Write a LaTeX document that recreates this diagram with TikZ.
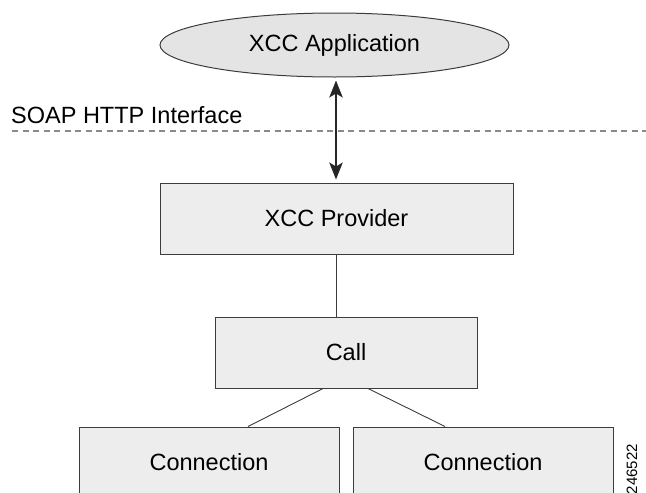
\documentclass[tikz,border=0pt]{standalone}
\usepackage{fontspec}
\setmainfont{Liberation Sans}
\usetikzlibrary{shapes.geometric,arrows.meta,calc}

\definecolor{boxfill}{HTML}{EDEDED}
\definecolor{ovalfill}{HTML}{E4E4E4}
\definecolor{boxline}{HTML}{3C3C3C}
\definecolor{dashline}{HTML}{8A8A8A}

\tikzset{
  lbl/.style={font=\fontsize{23.5}{28}\selectfont},
  block/.style={draw=boxline, fill=boxfill, line width=1pt, inner sep=0pt, lbl},
  oval/.style={ellipse, draw=boxline, fill=ovalfill, line width=1pt, inner sep=0pt, lbl},
  link/.style={draw=boxline, line width=0.9pt},
  headtip/.tip={Stealth[length=17pt,width=13.5pt,inset=4pt]},
}

\begin{document}
\begin{tikzpicture}[x=1pt, y=-1pt]
  \useasboundingbox (0,0) rectangle (646,493);
  \clip (0,0) rectangle (646,493);

  % client on top
  \node[oval, minimum width=349pt, minimum height=64pt] (app) at (334.5,45) {XCC Application};

  % interface boundary
  \coordinate (ifL) at (12,131);
  \coordinate (ifR) at (646,131);
  \draw[dashline, line width=1.3pt, dash pattern=on 6pt off 4.5pt] (ifL) -- (ifR);
  \node[lbl, anchor=base west, inner sep=0pt] (iflabel) at (11,123) {SOAP HTTP Interface};

  % provider and call objects
  \node[block, minimum width=353pt, minimum height=71pt] (prov) at (336.5,218.5) {XCC Provider};
  \node[block, minimum width=262pt, minimum height=71pt] (call) at (346,352.5) {Call};

  % connections (running past the lower edge)
  \node[block, minimum width=260pt, minimum height=70pt] (conL) at (209,462) {Connection};
  \node[block, minimum width=260pt, minimum height=70pt] (conR) at (483,462) {Connection};

  % connectors
  \draw[black!85, line width=1.3pt, headtip-headtip]
    ($(app.south)+(1.5,3)$) -- ($(prov.north)+(-0.5,-3)$);
  \draw[link] (prov.south) -- (prov.south |- call.north);
  \coordinate (cl1) at ($(call.south)+(-23,0)$);
  \coordinate (cl2) at ($(call.south)+(22,0)$);
  \coordinate (cn1) at ($(conL.north)+(39,0)$);
  \coordinate (cn2) at ($(conR.north)+(-38,0)$);
  \draw[link] (cl1) -- (cn1);
  \draw[link] (cl2) -- (cn2);

  % figure number
  \node[rotate=90, anchor=east, inner sep=0pt, font=\fontsize{15}{18}\selectfont] (fignum) at (632,444) {246522};
\end{tikzpicture}
\end{document}
